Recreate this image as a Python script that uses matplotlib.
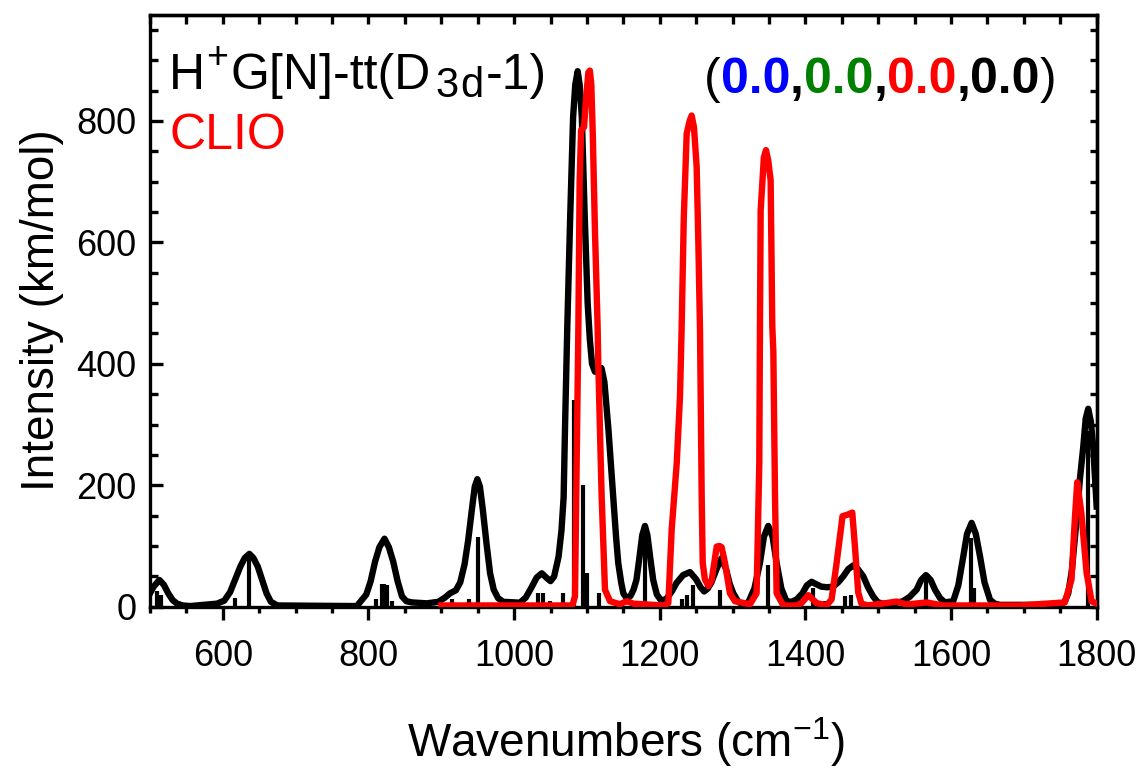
import matplotlib
matplotlib.use("Agg")
import matplotlib.pyplot as plt
from matplotlib.ticker import MultipleLocator

plt.rcParams['font.family'] = ['Liberation Sans', 'DejaVu Sans']
plt.rcParams['mathtext.fontset'] = 'custom'
plt.rcParams['mathtext.rm'] = 'Liberation Sans'
plt.rcParams['mathtext.it'] = 'Liberation Sans:italic'
plt.rcParams['mathtext.bf'] = 'Liberation Sans:bold'

# computed spectrum (broadened), wavenumber / intensity
calc_x = [500, 505, 512.8, 519, 525, 531, 537, 545, 555, 592, 602, 610, 617, 624, 630, 636.4,
          642, 648, 654, 660, 666, 675, 784, 797, 803, 809, 815, 822, 828, 834, 840, 846,
          852, 860, 880, 896, 905, 912, 920, 926, 932, 937, 942, 946, 949.5, 953, 957, 962,
          967, 972, 978, 985, 1008, 1016, 1024, 1031, 1038, 1045, 1050, 1055, 1061, 1065,
          1068, 1070, 1073, 1077, 1081, 1084, 1087.3, 1090, 1093, 1097, 1101, 1104, 1107,
          1111, 1116, 1120, 1124, 1129.6, 1136, 1140, 1143, 1147, 1150, 1155, 1160, 1164,
          1168, 1172, 1176, 1179.7, 1183, 1187, 1191, 1196, 1202.6, 1210, 1217, 1223, 1232,
          1241.5, 1250, 1256, 1261, 1266, 1271, 1278, 1285, 1291, 1296, 1301, 1308, 1314.7,
          1322, 1330, 1337.6, 1343, 1349, 1355, 1360.5, 1367, 1374, 1381, 1388, 1396, 1402,
          1408.5, 1415, 1422, 1430, 1438, 1445, 1452, 1459, 1465.8, 1472, 1479.5, 1486, 1493,
          1499, 1504.7, 1520, 1534, 1543, 1552.8, 1559, 1565.6, 1572, 1578, 1585, 1591.7,
          1603, 1610, 1616.9, 1622, 1628.3, 1634, 1639.8, 1646, 1653.5, 1660, 1667, 1749.5,
          1756, 1761, 1766, 1772.4, 1777, 1781.6, 1785, 1788.4, 1792, 1795.3, 1800]
calc_y = [22, 33, 44, 36, 22, 11, 5, 2, 1, 5, 10, 24, 45, 66, 80, 87,
          80, 66, 44, 22, 8, 2, 1, 20, 42, 74, 98, 112, 98, 74, 42, 17,
          9, 7, 5.5, 8, 15, 22, 27, 40, 70, 110, 160, 198, 210, 198, 160, 105,
          55, 28, 14, 8, 6.6, 15, 32, 48, 55, 47, 42, 50, 82, 125,
          180, 300, 460, 642, 806, 860, 882, 860, 806, 642, 500, 440, 400,
          387, 392, 393, 370, 291, 182, 115, 72, 40, 22, 13, 18, 28,
          44, 80, 118, 133, 118, 80, 44, 20, 9, 14, 26, 39, 52,
          57, 45, 32, 25, 30, 40, 62, 80, 62, 38, 22, 8, 3,
          8, 30, 72, 115, 133, 115, 72, 30, 9, 8, 12, 22, 35,
          41, 37, 33, 32, 33, 40, 50, 62, 68, 62, 50, 32, 17,
          8, 5, 5, 9, 16, 28, 44, 52, 44, 28, 14, 7,
          9, 35, 83, 120, 138, 120, 83, 40, 11.5, 5, 3, 3,
          8, 22, 60, 143, 210, 263, 310, 326, 305, 263, 165]

# computed stick spectrum
stick_x = [509, 515, 617, 636, 810, 818, 822, 826, 832, 915, 938, 950, 1033, 1040, 1049,
           1067, 1082, 1095, 1100, 1116, 1180, 1230, 1237, 1245, 1283, 1349, 1410, 1427,
           1455, 1462, 1566, 1628, 1631, 1788]
stick_y = [25, 20, 15, 84, 12, 38, 38, 36, 10, 13, 12, 115, 22, 22, 9,
           22, 341, 200, 55, 22, 128, 12, 19, 36, 28, 69, 30, 9,
           17, 20, 45, 113, 30, 290]

# CLIO experimental spectrum
clio_x = [900, 1000, 1080, 1083.6, 1085.9, 1088.2, 1090, 1092, 1096, 1099, 1102, 1104, 1106,
          1108, 1111, 1114.7, 1115.6, 1120.2, 1124.8, 1131.7, 1145, 1154.6, 1163.8, 1205,
          1211.8, 1216.4, 1223.3, 1227.8, 1230, 1233, 1237, 1241, 1243.8, 1247, 1250.7, 1253,
          1255.3, 1257.6, 1259, 1262, 1266.8, 1271.4, 1278.2, 1282, 1285, 1289.6, 1296.4,
          1303.3, 1323.9, 1333, 1336.7, 1337.6, 1338.6, 1343, 1345.9, 1349, 1352.3, 1354.6,
          1356, 1358.3, 1360.5, 1369.7, 1388, 1394.8, 1404, 1415.4, 1429, 1436, 1442.9, 1451,
          1458.8, 1464.4, 1468, 1472.6, 1477, 1486, 1511.5, 1525.3, 1539, 1566.5, 1589,
          1694.6, 1731, 1756.3, 1765.5, 1770, 1773.3, 1779, 1786.2, 1793, 1800]
clio_y = [2, 2, 2, 17, 236, 455, 700, 785, 790, 840, 880, 883, 860,
          780, 620, 461, 400, 182, 28, 9, 4, 9, 5, 2,
          6, 127, 236, 346, 455, 640, 779, 800, 809, 790, 724, 600,
          455, 182, 72, 45, 34, 44, 99, 100, 98, 72, 22,
          9, 4, 22, 236, 455, 653, 740, 752, 735, 702, 461,
          420, 182, 22, 2, 2, 6, 19, 6, 2, 12, 72, 149,
          152, 155, 100, 23, 5, 2, 6, 8.5, 3.6, 7, 2,
          2, 5, 7, 45, 143, 205, 154, 56, 9, 5]

W, H = 1147, 776
fig = plt.figure(figsize=(W / 100, H / 100), dpi=100)
ax = fig.add_axes([0.1308, 0.2182, 0.8253, 0.7628])

ax.vlines(stick_x, 0, stick_y, color='black', lw=3.0, zorder=2)
ax.plot(calc_x, calc_y, color='black', lw=4.6, zorder=3, solid_joinstyle='round')
ax.plot(clio_x, clio_y, color='red', lw=4.6, zorder=4, solid_joinstyle='round')

ax.set_xlim(500, 1800)
ax.set_ylim(0, 975)
ax.set_xticks(range(600, 1801, 200))
ax.set_yticks(range(0, 801, 200))
ax.xaxis.set_minor_locator(MultipleLocator(50))
ax.yaxis.set_minor_locator(MultipleLocator(50))

for sp in ax.spines.values():
    sp.set_linewidth(2.4)

ax.tick_params(axis='x', which='major', direction='out', length=9.5, width=2.4,
               labelsize=26, pad=14, top=False)
ax.tick_params(axis='x', which='minor', direction='out', length=4.5, width=2.4, top=False)
ax.tick_params(axis='y', which='major', direction='in', length=9.5, width=2.4,
               labelsize=26, pad=10, right=False)
ax.tick_params(axis='y', which='minor', direction='in', length=6, width=2.4, right=False)

# top and right frames carry inward ticks only
top = ax.secondary_xaxis('top')
top.set_xticks(range(600, 1801, 200))
top.xaxis.set_minor_locator(MultipleLocator(50))
top.tick_params(which='both', direction='in', length=6.5, width=2.4, labeltop=False)
top.spines['top'].set_linewidth(2.4)

right = ax.secondary_yaxis('right')
right.set_yticks(range(0, 801, 200))
right.yaxis.set_minor_locator(MultipleLocator(50))
right.tick_params(which='both', direction='in', length=5, width=2.4, labelright=False)
right.spines['right'].set_linewidth(2.4)

fig.text(0.5453, (H - 757) / H, r'Wavenumbers (cm$^{-1}$)', fontsize=33,
         ha='center', va='baseline')
fig.text(0.037, 0.6005, 'Intensity (km/mol)', fontsize=33, rotation=90,
         ha='center', va='center')

renderer = fig.canvas.get_renderer()


def write_run(x0, base, parts):
    # lay text pieces side by side; each part: text, colour, weight, size,
    # vertical shift and leading gap in pixels
    x = x0
    for s, c, w, size, dy, gap in parts:
        x += gap
        t = fig.text(x / W, (H - base + dy) / H, s, color=c, fontweight=w,
                     fontsize=size, va='baseline', ha='left')
        x = t.get_window_extent(renderer).x1


write_run(169, 89.3, [('H', 'black', 'normal', 36, 0, 0),
                      ('+', 'black', 'normal', 27, 21.5, 1),
                      ('G[N]-tt(D', 'black', 'normal', 36, 0, 2),
                      ('3', 'black', 'normal', 30, -7.4, 5),
                      ('d', 'black', 'normal', 30, -7.4, 2),
                      ('-1)', 'black', 'normal', 36, 0, 2)])
write_run(169, 148.7, [('CLIO', 'red', 'normal', 36, 0, 0)])

write_run(704, 93.3, [('(', 'black', 'normal', 36, 0, 0),
                      ('0.0', '#0000ff', 'bold', 36, 0, 0), (',', 'black', 'bold', 36, 0, 0),
                      ('0.0', '#008000', 'bold', 36, 0, 0), (',', 'black', 'bold', 36, 0, 0),
                      ('0.0', '#ff0000', 'bold', 36, 0, 0), (',', 'black', 'bold', 36, 0, 0),
                      ('0.0', 'black', 'bold', 36, 0, 0), (')', 'black', 'normal', 36, 0, 0)])

fig.savefig('out.png', dpi=100)
